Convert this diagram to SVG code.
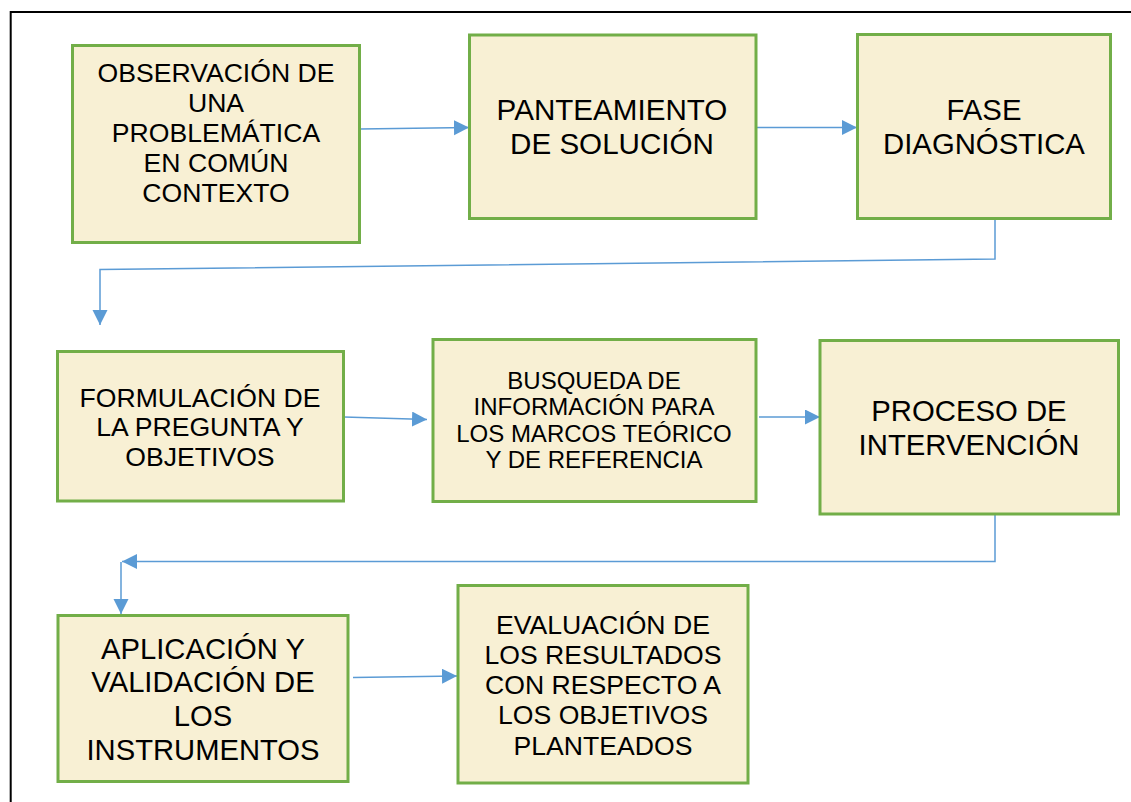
<svg xmlns="http://www.w3.org/2000/svg" width="1131" height="802" viewBox="0 0 1131 802">
  <defs>
    <style>
      .box { fill: #F8F0D4; stroke: #72AE48; stroke-width: 3; }
      .t { font-family: "Liberation Sans", Arial, sans-serif; fill: #000; text-anchor: middle; }
      .conn { fill: none; stroke: #5B9BD5; stroke-width: 1.5; }
    </style>
    <marker id="ah" markerUnits="userSpaceOnUse" markerWidth="16" markerHeight="16" refX="15" refY="7.5" orient="auto">
      <path d="M0,0 L15,7.5 L0,15 z" fill="#5B9BD5"/>
    </marker>
  </defs>
  <rect width="1131" height="802" fill="#ffffff"/>
  <rect x="10.7" y="12" width="1200" height="900" fill="none" stroke="#000" stroke-width="2"/>

  <g id="connectors">
    <path class="conn" d="M360,129 L469,127.5" marker-end="url(#ah)"/>
    <path class="conn" d="M756,127.5 L857,127.5" marker-end="url(#ah)"/>
    <path class="conn" d="M995,219 L995,259 L100,269.5 L100,325" marker-end="url(#ah)"/>
    <path class="conn" d="M344,417 L427,419.5" marker-end="url(#ah)"/>
    <path class="conn" d="M759,417 L820,417" marker-end="url(#ah)"/>
    <path class="conn" d="M995,514 L995,561.5 L122,561.5" marker-end="url(#ah)"/>
    <path class="conn" d="M121,562 L121,614" marker-end="url(#ah)"/>
    <path class="conn" d="M353,677.5 L457,676" marker-end="url(#ah)"/>
  </g>

  <g id="n1">
    <rect class="box" x="72.5" y="45.5" width="287" height="197"/>
    <text class="t" font-size="26.6"><tspan x="216" y="82">OBSERVACIÓN DE</tspan><tspan x="216" y="112">UNA</tspan><tspan x="216" y="142">PROBLEMÁTICA</tspan><tspan x="216" y="172">EN COMÚN</tspan><tspan x="216" y="202">CONTEXTO</tspan></text>
  </g>
  <g id="n2">
    <rect class="box" x="469.5" y="35" width="286.5" height="183.5"/>
    <text class="t" font-size="29.6"><tspan x="612" y="120">PANTEAMIENTO</tspan><tspan x="612" y="154">DE SOLUCIÓN</tspan></text>
  </g>
  <g id="n3">
    <rect class="box" x="857.5" y="34.5" width="253" height="184"/>
    <text class="t" font-size="29.3"><tspan x="984" y="119.5">FASE</tspan><tspan x="984" y="154">DIAGNÓSTICA</tspan></text>
  </g>
  <g id="n4">
    <rect class="box" x="57.5" y="351.5" width="286" height="149.5"/>
    <text class="t" font-size="26.6"><tspan x="200" y="406.5">FORMULACIÓN DE</tspan><tspan x="200" y="436">LA PREGUNTA Y</tspan><tspan x="200" y="466">OBJETIVOS</tspan></text>
  </g>
  <g id="n5">
    <rect class="box" x="433" y="339.5" width="323" height="162"/>
    <text class="t" font-size="24"><tspan x="594" y="388.5">BUSQUEDA DE</tspan><tspan x="594" y="414.5">INFORMACIÓN PARA</tspan><tspan x="594" y="441.5">LOS MARCOS TEÓRICO</tspan><tspan x="594" y="468">Y DE REFERENCIA</tspan></text>
  </g>
  <g id="n6">
    <rect class="box" x="820" y="340.5" width="298.5" height="173.5"/>
    <text class="t" font-size="29.3"><tspan x="969" y="421">PROCESO DE</tspan><tspan x="969" y="455">INTERVENCIÓN</tspan></text>
  </g>
  <g id="n7">
    <rect class="box" x="58" y="615.5" width="290" height="166"/>
    <text class="t" font-size="29.2"><tspan x="203" y="658.5">APLICACIÓN Y</tspan><tspan x="203" y="692">VALIDACIÓN DE</tspan><tspan x="203" y="725.5">LOS</tspan><tspan x="203" y="760">INSTRUMENTOS</tspan></text>
  </g>
  <g id="n8">
    <rect class="box" x="458" y="585.5" width="290" height="197.5"/>
    <text class="t" font-size="26.6"><tspan x="603" y="633.5">EVALUACIÓN DE</tspan><tspan x="603" y="663.5">LOS RESULTADOS</tspan><tspan x="603" y="693.5">CON RESPECTO A</tspan><tspan x="603" y="723.5">LOS OBJETIVOS</tspan><tspan x="603" y="755">PLANTEADOS</tspan></text>
  </g>
</svg>
